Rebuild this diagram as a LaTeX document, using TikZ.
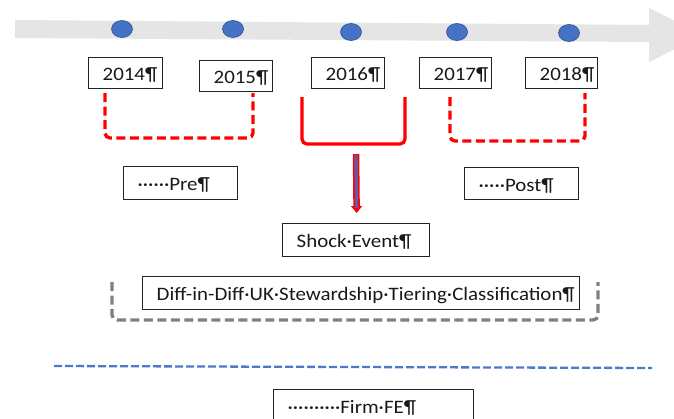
\documentclass[tikz,border=0pt]{standalone}
\usepackage{fontspec}
\setmainfont{Carlito}[FakeStretch=1.10]
\usetikzlibrary{calc,arrows.meta,shapes.geometric}

\definecolor{tlgray}{RGB}{229,229,229}
\definecolor{dotblue}{RGB}{68,114,196}
\definecolor{dotedge}{RGB}{47,82,143}
\definecolor{brkgray}{RGB}{128,128,128}
\definecolor{arrfill}{RGB}{100,88,168}
\definecolor{frameclr}{RGB}{35,35,35}
\definecolor{splitblue}{RGB}{78,120,200}

\tikzset{
  frame/.style={draw=frameclr, line width=1.3pt, inner sep=0pt, fill=white},
  lbl/.style={inner sep=0pt, font=\fontsize{19}{22}\selectfont, text=black!90},
  yeardot/.style={ellipse, fill=dotblue, draw=dotedge, line width=0.6pt,
                  minimum width=21pt, minimum height=17pt, inner sep=0pt},
  solidbrk/.style={red, line width=3.3pt, rounded corners=5pt},
  dashbrk/.style={solidbrk, dash pattern=on 9pt off 4.5pt},
  graybrk/.style={brkgray, line width=3.3pt, rounded corners=5pt, dash pattern=on 9pt off 4.5pt},
  splitline/.style={splitblue, line width=2.3pt, dash pattern=on 8pt off 3pt},
}

% framed label: name, x, y (top-left corner), width, height, text
\newcommand\wbox[6]{%
  \node[frame, minimum width=#4, minimum height=#5, anchor=north west] (#1) at (#2,#3) {};
  \node[lbl, anchor=base west] (#1t) at ($(#1.west)+(14.5,7.5)$) {#6};
}

\begin{document}
\begin{tikzpicture}[x=1pt, y=-1pt]
  \clip (0,0) rectangle (674,418);
  \fill[white] (0,0) rectangle (674,418);

  % timeline arrow
  \fill[tlgray] (15,20) -- (649,25) -- (649,8) -- (703,35) -- (649,62)
                -- (649,42) -- (15,38) -- cycle;

  % year dots
  \node[yeardot] (d2014) at (122,29) {};
  \node[yeardot] (d2015) at (233,29) {};
  \node[yeardot] (d2016) at (351,32) {};
  \node[yeardot] (d2017) at (457,32) {};
  \node[yeardot] (d2018) at (569,33) {};

  % year labels
  \wbox{b2014}{88}{57}{74}{31}{2014¶}
  \wbox{b2015}{199}{60}{73}{31}{2015¶}
  \wbox{b2016}{311}{57}{73}{31}{2016¶}
  \wbox{b2017}{419}{57}{72}{31}{2017¶}
  \wbox{b2018}{525}{57}{72}{31}{2018¶}

  % brackets under the years
  \coordinate (preL) at (105,93);
  \coordinate (preR) at (253,93);
  \draw[dashbrk] (preL) -- ++(0,45) -| (preR);

  \coordinate (shkL) at (302,97);
  \coordinate (shkR) at (405,97);
  \draw[solidbrk] (shkL) -- ++(0,47) -| (shkR);
  \coordinate (shkBot) at (356,144);

  \coordinate (postL) at (450,97);
  \coordinate (postR) at (585,93);
  \draw[dashbrk] (postL) -- ++(0,44) -| (postR);

  % period labels
  \wbox{pre}{123}{166}{114}{33}{······Pre¶}
  \wbox{post}{464}{167}{114}{32}{·····Post¶}
  \wbox{shock}{282}{223}{147}{33}{Shock·Event¶}

  % event arrow
  \draw[red, line width=6.5pt, -{Triangle[width=11pt,length=7pt]}]
    ($(shkBot)+(0,10)$) -- ($(shock.north)+(0.5,-10)$);
  \draw[arrfill, line width=3.4pt, shorten >=5pt]
    ($(shkBot)+(0,11)$) -- ($(shock.north)+(0.5,-10)$);

  % diff-in-diff bracket
  \coordinate (ddL) at (112,282);
  \coordinate (ddR) at (598,282);
  \draw[graybrk] (ddL) -- ++(0,38) -| (ddR);
  \wbox{diff}{142}{276}{437}{33}{Diff-in-Diff·UK·Stewardship·Tiering·Classification¶}

  % separator
  \coordinate (sepL) at (54,366);
  \coordinate (sepR) at (652,368);
  \draw[splitline] (sepL) -- (sepR);

  \wbox{firm}{273}{389}{200}{33}{··········Firm·FE¶}
\end{tikzpicture}
\end{document}
